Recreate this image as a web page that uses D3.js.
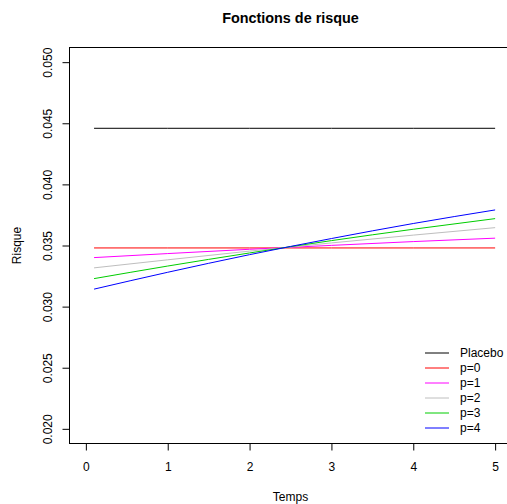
<!DOCTYPE html>
<html>
<head>
<meta charset="utf-8">
<script src="https://cdn.jsdelivr.net/npm/d3@7"></script>
<style>
  html, body { margin: 0; padding: 0; background: #fff; }
  svg { display: block; font-family: "Liberation Sans", Arial, Helvetica, sans-serif; }
</style>
</head>
<body>
<svg id="chart" width="507" height="504"></svg>
<script>
// Time points (years) at which the risk functions are evaluated
const temps = [0.1, 1, 2, 3, 4, 5];

// Risk function per arm
const placebo = [0.04459, 0.04459, 0.04459, 0.04459, 0.04459, 0.04459];
const p0 = [0.0348, 0.0348, 0.0348, 0.0348, 0.0348, 0.0348];
const p1 = [0.03401, 0.03434, 0.03469, 0.03501, 0.03532, 0.03560];
const p2 = [0.03317, 0.03383, 0.03454, 0.03521, 0.03585, 0.03646];
const p3 = [0.03229, 0.03332, 0.03439, 0.03540, 0.03633, 0.03720];
const p4 = [0.03143, 0.03281, 0.03425, 0.03557, 0.03680, 0.03791];

const seriesNames = ["Placebo", "p=0", "p=1", "p=2", "p=3", "p=4"];
const seriesValues = [placebo, p0, p1, p2, p3, p4];
const seriesColors = ["#000000", "#FF0000", "#FF00FF", "#BEBEBE", "#00CD00", "#0000FF"];

// Axis ticks
const xTicks = [0, 1, 2, 3, 4, 5];
const yTicks = [0.020, 0.025, 0.030, 0.035, 0.040, 0.045, 0.050];

const svg = d3.select("#chart");

// Plot region (the right edge lies just past the window)
const plotLeft = 69.5, plotRight = 511.5, plotTop = 47.5, plotBottom = 443.5;

const x = d3.scaleLinear().domain([-0.2, 5.2]).range([plotLeft, plotRight]);
const y = d3.scaleLinear().domain([0.0188, 0.0512]).range([plotBottom, plotTop]);

// Curves
const line = d3.line()
  .x((d, i) => x(temps[i]))
  .y(d => y(d))
  .curve(d3.curveMonotoneX);

svg.append("g")
  .selectAll("path")
  .data(seriesValues)
  .join("path")
  .attr("d", d => line(d))
  .attr("fill", "none")
  .attr("stroke", (d, i) => seriesColors[i])
  .attr("stroke-width", 1);

// Frame
svg.append("rect")
  .attr("x", plotLeft).attr("y", plotTop)
  .attr("width", plotRight - plotLeft).attr("height", plotBottom - plotTop)
  .attr("fill", "none").attr("stroke", "#000").attr("stroke-width", 1);

// X axis
const gx = svg.append("g")
  .attr("transform", `translate(0,${plotBottom})`)
  .call(d3.axisBottom(x).tickValues(xTicks).tickSize(7).tickSizeOuter(0).tickFormat(d3.format("d")));
gx.select(".domain").remove();
gx.selectAll(".tick line").attr("stroke", "#000");
gx.selectAll(".tick text")
  .attr("y", 27.5).attr("dy", 0)
  .attr("font-size", 12).attr("font-family", null).attr("fill", "#000");

// Y axis with labels rotated parallel to the axis
const gy = svg.append("g")
  .attr("transform", `translate(${plotLeft},0)`)
  .call(d3.axisLeft(y).tickValues(yTicks).tickSize(7).tickSizeOuter(0).tickFormat(d3.format(".3f")));
gy.select(".domain").remove();
gy.selectAll(".tick line").attr("stroke", "#000");
gy.selectAll(".tick text")
  .attr("x", 0).attr("y", 0).attr("dy", 0)
  .attr("transform", "translate(-17.5,0) rotate(-90)")
  .attr("text-anchor", "middle")
  .attr("font-size", 12).attr("font-family", null).attr("fill", "#000");

// Titles
svg.append("text")
  .attr("x", (plotLeft + plotRight) / 2).attr("y", 22.5)
  .attr("text-anchor", "middle")
  .attr("font-size", 14.4).attr("font-weight", "bold")
  .text("Fonctions de risque");

svg.append("text")
  .attr("x", (plotLeft + plotRight) / 2).attr("y", 500.5)
  .attr("text-anchor", "middle")
  .attr("font-size", 12)
  .text("Temps");

svg.append("text")
  .attr("transform", `translate(21,${(plotTop + plotBottom) / 2}) rotate(-90)`)
  .attr("text-anchor", "middle")
  .attr("font-size", 12)
  .text("Risque");

// Legend (no frame), one 24px line sample per series
const legend = svg.append("g");
const rowY = i => 353 + i * 15;
legend.selectAll("line")
  .data(seriesNames)
  .join("line")
  .attr("x1", 425).attr("x2", 449)
  .attr("y1", (d, i) => rowY(i)).attr("y2", (d, i) => rowY(i))
  .attr("stroke", (d, i) => seriesColors[i])
  .attr("stroke-width", 1);
legend.selectAll("text")
  .data(seriesNames)
  .join("text")
  .attr("x", 460).attr("y", (d, i) => rowY(i) + 4.3)
  .attr("font-size", 12)
  .text(d => d);
</script>
</body>
</html>
